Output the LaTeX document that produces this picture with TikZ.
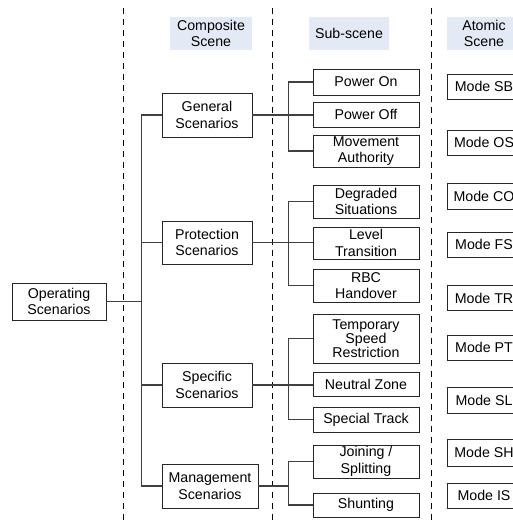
\documentclass[tikz,border=0pt]{standalone}
\usepackage{fontspec}
\setmainfont{Liberation Sans}
\definecolor{hdrblue}{HTML}{E4EAF5}
\begin{document}
\begin{tikzpicture}[x=1pt,y=-1pt,
  every node/.style={font=\fontsize{14.2}{16.5}\selectfont, align=center, inner sep=0pt},
  box/.style={draw=black!85, line width=0.9pt, fill=white},
  hdr/.style={fill=hdrblue},
  conn/.style={draw=black!75, line width=1.2pt},
  sepline/.style={draw=black, line width=0.8pt, dash pattern=on 6pt off 5pt}]
\useasboundingbox (0,0) rectangle (513,520);
\clip (0,0) rectangle (513,520);
% separators
\coordinate (s1t) at (123,8); \coordinate (s1b) at (123,520);
\coordinate (s2t) at (272,8); \coordinate (s2b) at (272,520);
\coordinate (s3t) at (431,8); \coordinate (s3b) at (431,520);
\draw[sepline] (s1t) -- (s1b);
\draw[sepline] (s2t) -- (s2b);
\draw[sepline] (s3t) -- (s3b);
% headers
\node[hdr, minimum width=82, minimum height=33] (h1) at (211,33.5) {Composite\\Scene};
\node[hdr, minimum width=80, minimum height=33] (h2) at (349,33.5) {Sub-scene};
\node[hdr, minimum width=74, minimum height=33] (h3) at (484,33.5) {Atomic\\Scene};
% root
\node[box, minimum width=94, minimum height=37] (op) at (59,301.5) {Operating\\Scenarios};
% composite
\node[box, minimum width=90, minimum height=44] (gen) at (207,115) {General\\Scenarios};
\node[box, minimum width=90, minimum height=43] (prot) at (207,242.5) {Protection\\Scenarios};
\node[box, minimum width=90, minimum height=44] (spec) at (207,385) {Specific\\Scenarios};
\node[box, minimum width=96, minimum height=44] (man) at (210,486) {Management\\Scenarios};
% sub-scenes
\node[box, minimum width=106, minimum height=26] (pon) at (366,82) {Power On};
\node[box, minimum width=106, minimum height=25] (poff) at (366,114.5) {Power Off};
\node[box, minimum width=106, minimum height=32] (mov) at (366,151) {Movement\\Authority};
\node[box, minimum width=106, minimum height=33] (deg) at (366,201.5) {Degraded\\Situations};
\node[box, minimum width=106, minimum height=32] (lev) at (366,243) {Level\\Transition};
\node[box, minimum width=106, minimum height=33] (rbc) at (366,285.5) {RBC\\Handover};
\node[box, minimum width=106, minimum height=49, font=\fontsize{14.2}{14}\selectfont] (tsr) at (366,338.5) {Temporary\\Speed\\Restriction};
\node[box, minimum width=106, minimum height=24] (neu) at (366,384) {Neutral Zone};
\node[box, minimum width=106, minimum height=25] (spt) at (366,419.5) {Special Track};
\node[box, minimum width=106, minimum height=33] (join) at (366,461.5) {Joining /\\Splitting};
\node[box, minimum width=106, minimum height=24] (shunt) at (366,505) {Shunting};
% atomic
\node[box, minimum width=74, minimum height=25] (sb) at (484,86.5) {Mode SB};
\node[box, minimum width=74, minimum height=25] (os) at (484,142.5) {Mode OS};
\node[box, minimum width=74, minimum height=26] (co) at (484,196) {Mode CO};
\node[box, minimum width=74, minimum height=25] (fs) at (484,244.5) {Mode FS};
\node[box, minimum width=74, minimum height=25] (tr) at (484,298) {Mode TR};
\node[box, minimum width=74, minimum height=25] (pt) at (484,347.5) {Mode PT};
\node[box, minimum width=74, minimum height=26] (sl) at (484,400) {Mode SL};
\node[box, minimum width=74, minimum height=27] (sh) at (484,452.5) {Mode SH};
\node[box, minimum width=74, minimum height=25] (is) at (484,495.5) {Mode IS};
% connectors root -> composite
\draw[conn] (gen.west) -- ++(-20,0) coordinate (tk) |- (man.west);
\draw[conn] (prot.west) -- (prot.west -| tk);
\draw[conn] (spec.west) -- (spec.west -| tk);
\draw[conn] (op.east) -- (op.east -| tk);
% composite -> sub
\draw[conn] (pon.west) -- ++(-24,0) |- (mov.west);
\draw[conn] (gen.east) -- (gen.east -| poff.west);
\draw[conn] (deg.west) -- ++(-24,0) |- (rbc.west);
\draw[conn] (prot.east) -- (prot.east -| lev.west);
\draw[conn] (tsr.west) -- ++(-24,0) |- (spt.west);
\draw[conn] (spec.east) -- (spec.east -| neu.west);
\draw[conn] (join.west) -- ++(-24,0) coordinate (jb) |- (shunt.west);
\draw[conn] (man.east) -- (man.east -| jb);
\end{tikzpicture}
\end{document}
